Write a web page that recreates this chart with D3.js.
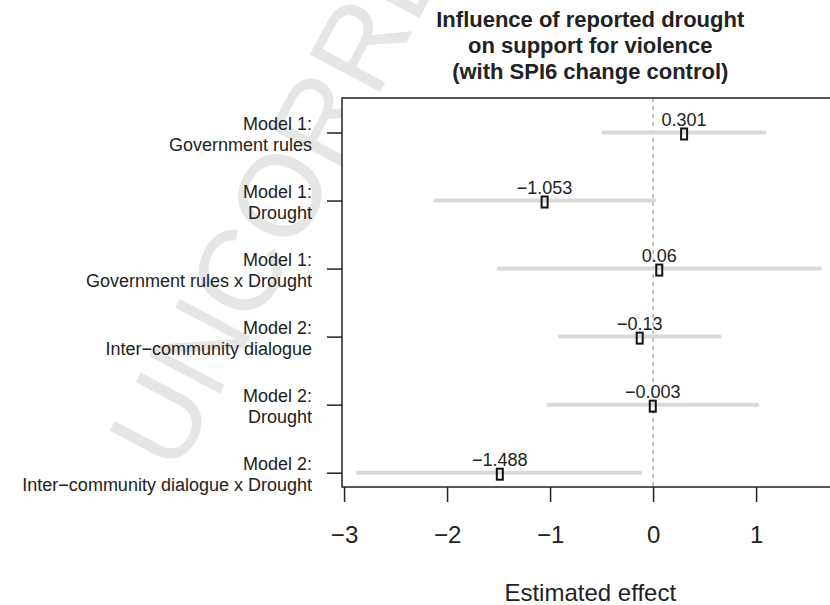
<!DOCTYPE html>
<html>
<head>
<meta charset="utf-8">
<script src="https://cdn.jsdelivr.net/npm/d3@7"></script>
<style>
  html, body { margin: 0; padding: 0; background: #fff; }
  svg { display: block; font-family: "Liberation Sans", Arial, Helvetica, sans-serif; }
</style>
</head>
<body>
<svg id="chart" width="830" height="605"></svg>
<script>
// Coefficient estimates with 95% confidence intervals
const terms = [
  ["Model 1:", "Government rules"],
  ["Model 1:", "Drought"],
  ["Model 1:", "Government rules x Drought"],
  ["Model 2:", "Inter\u2212community dialogue"],
  ["Model 2:", "Drought"],
  ["Model 2:", "Inter\u2212community dialogue x Drought"]
];
const estimates = [0.301, -1.053, 0.06, -0.13, -0.003, -1.488];
const ciLower   = [-0.48, -2.115, -1.50, -0.905, -1.015, -2.865];
const ciUpper   = [1.08, 0.01, 1.62, 0.645, 1.01, -0.125];
const estLabels = ["0.301", "\u22121.053", "0.06", "\u22120.13", "\u22120.003", "\u22121.488"];
const xTicks = [-3, -2, -1, 0, 1];
const titleLines = ["Influence of reported drought", "on support for violence", "(with SPI6 change control)"];
const xTitle = "Estimated effect";

const svg = d3.select("#chart");

// Light diagonal watermark behind everything
svg.append("text")
  .attr("transform", "translate(176,476) rotate(-62)")
  .attr("font-size", 116)
  .attr("fill", "#e6e6e6")
  .text("UNCORRECTED PROOF");

const plot = { left: 342, right: 838.5, top: 98, bottom: 487 };

const x = d3.scaleLinear().domain([-3.02, 1.8]).range([plot.left, plot.right]);
const y = d3.scalePoint().domain(d3.range(terms.length)).range([132.5, 472.7]);

// White plot region so the watermark stays outside
svg.append("rect")
  .attr("x", plot.left).attr("y", plot.top)
  .attr("width", plot.right - plot.left).attr("height", plot.bottom - plot.top)
  .attr("fill", "#fff");

// Reference line at zero
svg.append("line")
  .attr("x1", x(0)).attr("x2", x(0))
  .attr("y1", plot.top).attr("y2", plot.bottom)
  .attr("stroke", "#8a8a8a").attr("stroke-width", 1)
  .attr("stroke-dasharray", "4,4");

const rows = d3.range(terms.length);

// Confidence intervals
svg.append("g").selectAll("line")
  .data(rows).join("line")
  .attr("x1", i => x(ciLower[i])).attr("x2", i => x(ciUpper[i]))
  .attr("y1", i => y(i)).attr("y2", i => y(i))
  .attr("stroke", "#d9d9d9").attr("stroke-width", 4)
  .attr("stroke-linecap", "round");

// Point estimates (open squares)
svg.append("g").selectAll("rect")
  .data(rows).join("rect")
  .attr("x", i => x(estimates[i]) - 3)
  .attr("y", i => y(i) - 4)
  .attr("width", 6).attr("height", 11)
  .attr("fill", "none").attr("stroke", "#111").attr("stroke-width", 2);

// Estimate labels
svg.append("g").selectAll("text")
  .data(rows).join("text")
  .attr("x", i => x(estimates[i]))
  .attr("y", i => y(i) - 7)
  .attr("text-anchor", "middle")
  .attr("font-size", 18).attr("fill", "#222")
  .text(i => estLabels[i]);

// Plot frame
svg.append("rect")
  .attr("x", plot.left).attr("y", plot.top)
  .attr("width", plot.right - plot.left).attr("height", plot.bottom - plot.top)
  .attr("fill", "none").attr("stroke", "#222").attr("stroke-width", 1.5);

// X axis
const xAxis = svg.append("g")
  .attr("transform", `translate(0,${plot.bottom})`)
  .call(d3.axisBottom(x).tickValues(xTicks).tickSize(15).tickPadding(25)
    .tickFormat(d => d < 0 ? "\u2212" + Math.abs(d) : String(d)));
xAxis.select(".domain").remove();
xAxis.selectAll(".tick line").attr("stroke", "#222").attr("stroke-width", 1.5);
xAxis.selectAll(".tick text")
  .attr("font-size", 24).attr("fill", "#222")
  .attr("font-family", "'Liberation Sans', Arial, sans-serif")
  .attr("dy", null).attr("y", 56);

// Y axis ticks
const yAxis = svg.append("g")
  .attr("transform", `translate(${plot.left},0)`)
  .call(d3.axisLeft(y).tickSize(15).tickFormat(() => ""));
yAxis.select(".domain").remove();
yAxis.selectAll(".tick line").attr("stroke", "#222").attr("stroke-width", 1.5);

// Two-line term labels
const yl = svg.append("g").selectAll("text")
  .data(rows).join("text")
  .attr("text-anchor", "end")
  .attr("font-size", 18).attr("fill", "#222");
yl.append("tspan").attr("x", 312).attr("y", i => y(i) - 3).text(i => terms[i][0]);
yl.append("tspan").attr("x", 312).attr("y", i => y(i) + 18.5).text(i => terms[i][1]);

// Title
const cx = (plot.left + plot.right) / 2;
svg.append("g").selectAll("text")
  .data(titleLines).join("text")
  .attr("x", cx).attr("y", (d, i) => 27 + i * 26)
  .attr("text-anchor", "middle")
  .attr("font-size", 22).attr("font-weight", "bold").attr("fill", "#222")
  .text(d => d);

// X axis title
svg.append("text")
  .attr("x", cx).attr("y", 601)
  .attr("text-anchor", "middle")
  .attr("font-size", 24).attr("fill", "#222")
  .text(xTitle);
</script>
</body>
</html>
